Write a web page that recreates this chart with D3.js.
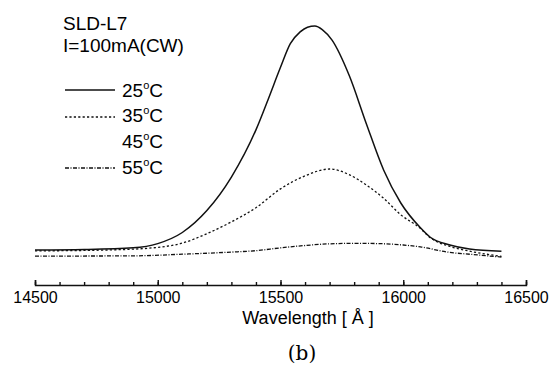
<!DOCTYPE html>
<html lang="en">
<head>
<meta charset="UTF-8">
<title>SLD-L7 spectrum</title>
<script src="https://d3js.org/d3.v7.min.js"></script>
<style>
  body { margin: 0; background: #fff; }
  svg { display: block; font-family: "Liberation Sans", Arial, sans-serif; }
  .axis text { font-size: 16px; fill: #000; }
  .axis path, .axis line { stroke: #111; stroke-width: 1.4px; }
</style>
</head>
<body>
<div id="chart"></div>
<script>
// wavelength [Å] and relative intensity
const wl25 = [14500, 14700, 14900, 15000, 15100, 15200, 15300, 15400, 15450, 15500, 15540, 15580, 15610, 15640, 15670, 15710, 15780, 15850, 15920, 15990, 16070, 16110, 16190, 16270, 16400];
const int25 = [0.051, 0.053, 0.060, 0.078, 0.125, 0.218, 0.36, 0.56, 0.69, 0.825, 0.925, 0.975, 0.995, 1.0, 0.985, 0.94, 0.79, 0.585, 0.39, 0.25, 0.145, 0.105, 0.072, 0.055, 0.046];

const wl35 = [14500, 14800, 15000, 15100, 15200, 15300, 15400, 15500, 15600, 15700, 15780, 15850, 15920, 15990, 16070, 16110, 16190, 16270, 16400];
const int35 = [0.047, 0.051, 0.062, 0.08, 0.12, 0.17, 0.23, 0.31, 0.365, 0.394, 0.37, 0.326, 0.27, 0.2, 0.142, 0.103, 0.066, 0.046, 0.024];

const wl55 = [14500, 14900, 15100, 15300, 15400, 15500, 15600, 15700, 15800, 15900, 16000, 16070, 16180, 16280, 16400];
const int55 = [0.025, 0.026, 0.033, 0.042, 0.048, 0.06, 0.07, 0.077, 0.079, 0.078, 0.072, 0.064, 0.042, 0.032, 0.021];

const majorTicks = [14500, 15000, 15500, 16000, 16500];
const legendLabels = ["25", "35", "45", "55"];

const series = [
  { wl: wl25, val: int25, dash: null },
  { wl: wl35, val: int35, dash: "2.2,2.2" },
  { wl: wl55, val: int55, dash: "4,1.5,1,1.5" }
];

const width = 550, height = 365;

const svg = d3.select("#chart").append("svg")
  .attr("width", width)
  .attr("height", height);

const x = d3.scaleLinear().domain([14500, 16500]).range([35, 526]);
const y = d3.scaleLinear().domain([0, 1]).range([262, 26]);
const axisY = 285;

// minor ticks every 100
svg.append("g")
  .attr("class", "axis")
  .attr("transform", `translate(0,${axisY})`)
  .call(d3.axisBottom(x).tickValues(d3.range(14500, 16501, 100)).tickSize(-3).tickFormat(""))
  .call(g => g.select(".domain").remove());

svg.append("g")
  .attr("class", "axis")
  .attr("transform", `translate(0,${axisY})`)
  .call(d3.axisBottom(x).tickValues(majorTicks).tickSize(-5).tickSizeOuter(-5).tickPadding(7).tickFormat(d3.format("d")));

const line = d3.line()
  .x(d => x(d[0]))
  .y(d => y(d[1]))
  .curve(d3.curveMonotoneX);

series.forEach(s => {
  svg.append("path")
    .datum(s.wl.map((w, i) => [w, s.val[i]]))
    .attr("fill", "none")
    .attr("stroke", "#111")
    .attr("stroke-width", s.dash ? 1.3 : 1.5)
    .attr("stroke-dasharray", s.dash)
    .attr("d", line);
});

// title text
svg.append("text").attr("x", 63).attr("y", 30).attr("font-size", 19).attr("fill", "#000").text("SLD-L7");
svg.append("text").attr("x", 63).attr("y", 52).attr("font-size", 19).attr("fill", "#000").text("I=100mA(CW)");

// legend
const legendDash = [null, "2.2,2.2", "none", "4,1.5,1,1.5"];
const legendY = [90, 117, 142, 168];
const legendBase = [97, 122, 148, 174];

legendLabels.forEach((lab, i) => {
  if (legendDash[i] !== "none") {
    svg.append("line")
      .attr("x1", 65).attr("x2", 115)
      .attr("y1", legendY[i]).attr("y2", legendY[i])
      .attr("stroke", "#111")
      .attr("stroke-width", 1.3)
      .attr("stroke-dasharray", legendDash[i]);
  }
  const t = svg.append("text")
    .attr("x", 122).attr("y", legendBase[i])
    .attr("font-size", 19).attr("fill", "#000");
  t.append("tspan").text(lab);
  t.append("tspan").attr("font-size", 11).attr("dy", -8).text("o");
  t.append("tspan").attr("dy", 8).text("C");
});

// axis title
svg.append("text")
  .attr("x", 308).attr("y", 324)
  .attr("text-anchor", "middle")
  .attr("font-size", 18)
  .attr("fill", "#000")
  .text("Wavelength [ Å ]");

svg.append("text")
  .attr("x", 302).attr("y", 360)
  .attr("text-anchor", "middle")
  .attr("font-size", 20)
  .attr("font-family", "'DejaVu Serif', 'Liberation Serif', serif")
  .attr("fill", "#000")
  .text("(b)");
</script>
</body>
</html>
